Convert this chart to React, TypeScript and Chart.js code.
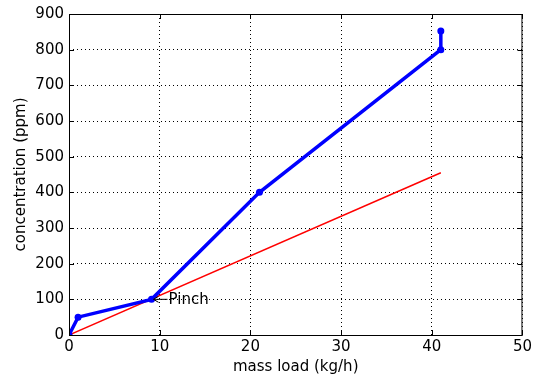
import React, { useEffect, useRef } from "react";
import { Chart, registerables } from "chart.js";

Chart.register(...registerables);

const compositeX = [0, 1, 9.1, 21, 41, 41];
const compositeY = [0, 50, 100, 400, 800, 852];
const supplyX = [0, 41];
const supplyY = [0, 455];
const xTicks = [0, 10, 20, 30, 40, 50];
const yTicks = [0, 100, 200, 300, 400, 500, 600, 700, 800, 900];
const pinchLabel = "Pinch";
const pinchPoint = { x: 9.1, y: 100 };

const FONT = "'DejaVu Sans', Arial, sans-serif";

const framePlugin = {
  id: "frame",
  afterDraw(chart: any) {
    const { ctx, chartArea: a, scales } = chart;
    ctx.save();
    ctx.strokeStyle = "#000";
    ctx.lineWidth = 1;
    ctx.strokeRect(a.left + 0.5, a.top + 0.5, a.right - a.left - 1, a.bottom - a.top);
    const xs = scales.x, ys = scales.y;
    ctx.beginPath();
    xTicks.forEach((v) => {
      const px = Math.round(xs.getPixelForValue(v)) + 0.5;
      ctx.moveTo(px, a.bottom);
      ctx.lineTo(px, a.bottom - 5);
      ctx.moveTo(px, a.top);
      ctx.lineTo(px, a.top + 5);
    });
    yTicks.forEach((v) => {
      const py = Math.round(ys.getPixelForValue(v)) + 0.5;
      ctx.moveTo(a.left, py);
      ctx.lineTo(a.left + 5, py);
      ctx.moveTo(a.right, py);
      ctx.lineTo(a.right - 5, py);
    });
    ctx.stroke();
    const px = xs.getPixelForValue(pinchPoint.x);
    const py = ys.getPixelForValue(pinchPoint.y);
    ctx.beginPath();
    ctx.moveTo(px + 2, py);
    ctx.lineTo(px + 16, py);
    ctx.moveTo(px + 2, py);
    ctx.lineTo(px + 7, py - 3);
    ctx.moveTo(px + 2, py);
    ctx.lineTo(px + 7, py + 3);
    ctx.stroke();
    ctx.fillStyle = "#000";
    ctx.font = `15px ${FONT}`;
    ctx.textBaseline = "middle";
    ctx.textAlign = "left";
    ctx.fillText(pinchLabel, px + 17, py + 1);
    ctx.restore();
  },
};

export default function App() {
  const ref = useRef<HTMLCanvasElement | null>(null);
  useEffect(() => {
    document.body.style.margin = "0";
    const chart = new Chart(ref.current as HTMLCanvasElement, {
      type: "scatter",
      data: {
        datasets: [
          {
            data: supplyX.map((x, i) => ({ x, y: supplyY[i] })),
            showLine: true,
            borderColor: "#ff0000",
            borderWidth: 1.5,
            pointRadius: 0,
            order: 2,
          },
          {
            data: compositeX.map((x, i) => ({ x, y: compositeY[i] })),
            showLine: true,
            borderColor: "#0000ff",
            backgroundColor: "#0000ff",
            borderWidth: 3.5,
            pointRadius: 3.5,
            pointBorderWidth: 0,
            order: 1,
          },
        ],
      },
      options: {
        animation: false,
        responsive: false,
        layout: { padding: { left: 12, right: 11, top: 14, bottom: 0 } },
        plugins: { legend: { display: false }, tooltip: { enabled: false } },
        scales: {
          x: {
            type: "linear",
            min: 0,
            max: 50,
            afterBuildTicks: (s: any) => {
              s.ticks = xTicks.map((v) => ({ value: v }));
            },
            afterFit: (s: any) => {
              s.height = 41;
            },
            grid: { color: "#000", lineWidth: 1, drawTicks: false },
            border: { display: false, dash: [1, 3] },
            ticks: { color: "#000", font: { family: FONT, size: 15 }, padding: 3, maxRotation: 0 },
            title: {
              display: true,
              text: "mass load (kg/h)",
              color: "#000",
              font: { family: FONT, size: 15 },
              padding: { top: 0, bottom: 0 },
            },
          },
          y: {
            type: "linear",
            min: 0,
            max: 900,
            afterBuildTicks: (s: any) => {
              s.ticks = yTicks.map((v) => ({ value: v }));
            },
            afterFit: (s: any) => {
              s.width = 57;
            },
            grid: { color: "#000", lineWidth: 1, drawTicks: false },
            border: { display: false, dash: [1, 3] },
            ticks: { color: "#000", font: { family: FONT, size: 15 }, padding: 5 },
            title: {
              display: true,
              text: "concentration (ppm)",
              color: "#000",
              font: { family: FONT, size: 15 },
              padding: { top: 0, bottom: 0 },
            },
          },
        },
      },
      plugins: [framePlugin],
    });
    return () => chart.destroy();
  }, []);
  return (
    <div style={{ width: 535, height: 376, background: "#fff" }}>
      <canvas ref={ref} width={535} height={376} />
    </div>
  );
}
